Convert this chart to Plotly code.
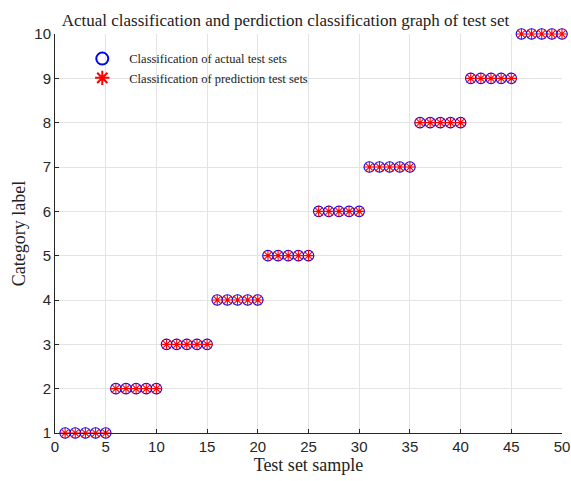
import plotly.graph_objects as go

samples = list(range(1, 51))
actual = [1]*5 + [2]*5 + [3]*5 + [4]*5 + [5]*5 + [6]*5 + [7]*5 + [8]*5 + [9]*5 + [10]*5
predicted = [1]*5 + [2]*5 + [3]*5 + [4]*5 + [5]*5 + [6]*5 + [7]*5 + [8]*5 + [9]*5 + [10]*5
x_ticks = [0, 5, 10, 15, 20, 25, 30, 35, 40, 45, 50]
y_ticks = [1, 2, 3, 4, 5, 6, 7, 8, 9, 10]

fig = go.Figure()
fig.add_trace(go.Scatter(x=samples, y=actual, mode="markers",
                         name="Classification of actual test sets",
                         marker=dict(symbol="circle-open", size=10.5, color="#0000ff",
                                     line=dict(width=1.1, color="#3030ff")),
                         cliponaxis=False))
fig.add_trace(go.Scatter(x=samples, y=predicted, mode="markers",
                         name="Classification of prediction test sets",
                         marker=dict(symbol="asterisk-open", size=9.5, color="#ff0000",
                                     line=dict(width=1.1, color="#ff0000")),
                         cliponaxis=False))

fig.update_layout(
    width=571, height=481,
    paper_bgcolor="white", plot_bgcolor="white",
    margin=dict(l=55, r=9, t=34, b=48, autoexpand=False),
    title=dict(text="Actual classification and perdiction classification graph of test set",
               x=0.5, xanchor="center", y=0.958, yanchor="middle",
               font=dict(family="Liberation Serif", size=17, color="#222222")),
    legend=dict(x=0.04, y=0.975, xanchor="left", yanchor="top",
                bgcolor="rgba(0,0,0,0)",
                font=dict(family="Liberation Serif", size=12.5, color="#222222"),
                itemsizing="constant", tracegroupgap=0, itemwidth=44),
    showlegend=True,
)
fig.update_xaxes(range=[0, 50], tickvals=x_ticks, showgrid=True, gridcolor="#e3e3e3",
                 showline=True, linecolor="#262626", linewidth=1, ticks="inside",
                 ticklen=4, tickcolor="#262626", zeroline=False, mirror=False,
                 automargin=False,
                 tickfont=dict(family="Liberation Sans", size=15, color="#262626"),
                 title=dict(text="Test set sample", standoff=2,
                            font=dict(family="Liberation Serif", size=18, color="#222222")))
fig.update_yaxes(range=[1, 10], tickvals=y_ticks, showgrid=True, gridcolor="#e3e3e3",
                 showline=True, linecolor="#262626", linewidth=1, ticks="inside",
                 ticklen=4, tickcolor="#262626", zeroline=False, mirror=False,
                 automargin=False,
                 tickfont=dict(family="Liberation Sans", size=15, color="#262626"),
                 title=dict(text="Category label", standoff=4,
                            font=dict(family="Liberation Serif", size=18, color="#222222")))

fig.write_html("out.html", config={"displayModeBar": False},
               post_script="document.body.style.margin='0';document.body.style.overflow='hidden';")
